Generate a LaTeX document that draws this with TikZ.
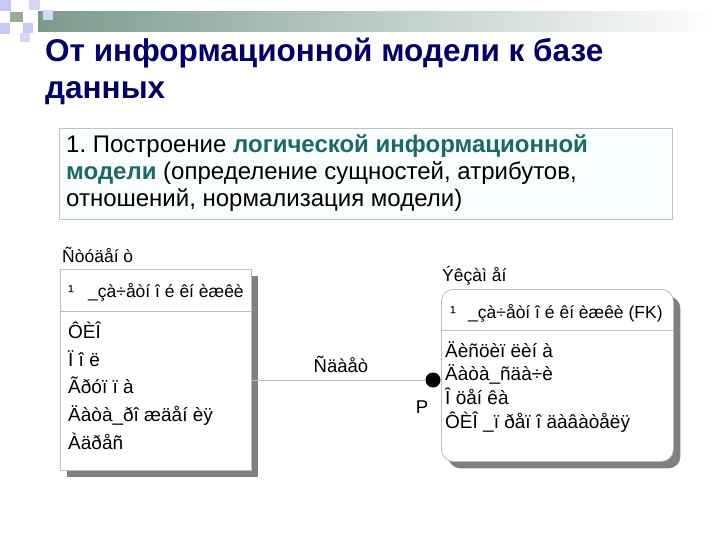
\documentclass[tikz,border=0pt]{standalone}
\usepackage{fontspec}
\setmainfont{Liberation Sans}
\usetikzlibrary{shadows}
\definecolor{navy}{RGB}{0,0,102}
\definecolor{tealtxt}{RGB}{30,104,104}
\definecolor{barcol}{RGB}{122,154,140}
\definecolor{lav}{RGB}{200,200,240}
\definecolor{lav2}{RGB}{215,215,245}
\definecolor{sqgreen}{RGB}{150,170,160}
\definecolor{boxline}{RGB}{180,198,204}
\definecolor{boxfill}{RGB}{250,253,253}
\definecolor{erline}{RGB}{190,190,190}
\definecolor{shadowgray}{RGB}{128,128,128}
\begin{document}
\frenchspacing
\begin{tikzpicture}[x=1pt,y=-1pt,
  titletxt/.style={anchor=base west,inner sep=0,text=navy,font=\bfseries\fontsize{31.5}{35}\selectfont},
  bodytxt/.style={anchor=base west,inner sep=0,font=\fontsize{24}{27}\selectfont},
  ertxt/.style={anchor=base west,inner sep=0,font=\fontsize{19}{21}\selectfont},
  keytxt/.style={anchor=base west,inner sep=0,font=\fontsize{17.5}{20}\selectfont},
  entname/.style={anchor=base west,inner sep=0,font=\fontsize{17.5}{20}\selectfont},
  reltxt/.style={anchor=base,inner sep=0,font=\fontsize{18.5}{20}\selectfont},
  entitybox/.style={draw=erline,fill=white,line width=0.8pt,anchor=north west,inner sep=0,
     drop shadow={shadow xshift=7pt,shadow yshift=-7pt,fill=shadowgray,opacity=1}},
  divider/.style={draw=erline,line width=0.8pt},
  conn/.style={draw=erline,line width=1pt},
  dotnode/.style={circle,fill=black,inner sep=0,minimum size=15pt}]
\useasboundingbox (0,0) rectangle (720,540);
% decoration
\shade[left color=barcol,right color=white] (38,12) rectangle (720,32);
\fill[lav] (0,0) rectangle (11,11);
\fill[lav2] (29,0) rectangle (40,10);
\fill[sqgreen] (10,12) rectangle (23,22);
\fill[lav] (0,23) rectangle (10,34);
\fill[lav] (23,23) rectangle (33,33);
\fill[lav2] (43,10) rectangle (53,20);
\fill[lav2] (20,33) rectangle (30,42);
% title
\node[titletxt] (t1) at (45,62) {От информационной модели к базе};
\node[titletxt] (t2) at (45,99) {данных};
% text box
\node[draw=boxline,fill=boxfill,line width=0.8pt,anchor=north west,minimum width=613pt,minimum height=91pt,inner sep=0] (tb) at (59,128) {};
\node[bodytxt] (b1) at (66,153) {1. Построение \textcolor{tealtxt}{\bfseries логической информационной}};
\node[bodytxt] (b2) at (66,180) {\textcolor{tealtxt}{\bfseries модели} (определение сущностей, атрибутов,};
\node[bodytxt] (b3) at (66,207) {отношений, нормализация модели)};
% left entity
\node[entname] (lname) at (62,262) {Ñòóäåí ò};
\node[entitybox,minimum width=191pt,minimum height=201pt] (lbox) at (60,269) {};
\draw[divider] (60,311) -- (251,311);
\node[keytxt] (lk1) at (68,297) {¹};
\node[keytxt] (lk2) at (88,297) {\_çà÷åòí î é êí èæêè};
\node[ertxt] (la1) at (68,338) {ÔÈÎ};
\node[ertxt] (la2) at (68,366) {Ï î ë};
\node[ertxt] (la3) at (68,393) {Ãðóï ï à};
\node[ertxt] (la4) at (68,421.5) {Äàòà\_ðî æäåí èÿ};
\node[ertxt] (la5) at (68,449.5) {Àäðåñ};
% right entity
\node[entname] (rname) at (442,281) {Ýêçàì åí};
\node[entitybox,rounded corners=12pt,minimum width=232pt,minimum height=172pt] (rbox) at (441,289) {};
\draw[divider] (441,330) -- (673,330);
\node[keytxt] (rk1) at (450,318) {¹};
\node[keytxt] (rk2) at (468,318) {\_çà÷åòí î é êí èæêè (FK)};
\node[ertxt] (ra1) at (445,357) {Äèñöèï ëèí à};
\node[ertxt] (ra2) at (445,380.5) {Äàòà\_ñäà÷è};
\node[ertxt] (ra3) at (445,404) {Î öåí êà};
\node[ertxt] (ra4) at (445,428) {ÔÈÎ \_ï ðåï î äàâàòåëÿ};
% relationship
\node[dotnode] (dot) at (433,380) {};
\draw[conn] (dot.center -| lbox.east) -- (dot.west);
\node[reltxt] (rel) at (341,372) {Ñäàåò};
\node[reltxt] (card) at (422,413) {P};
\end{tikzpicture}
\end{document}
